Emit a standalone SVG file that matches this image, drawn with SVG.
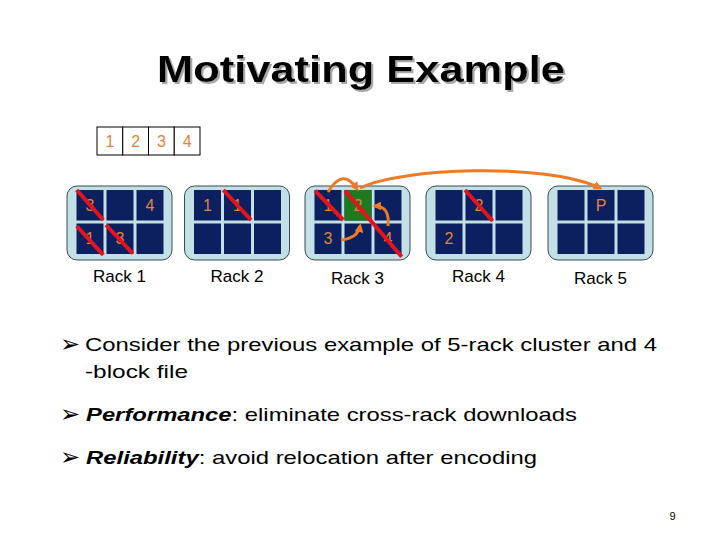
<svg xmlns="http://www.w3.org/2000/svg" width="720" height="540" viewBox="0 0 720 540">
<style>
text { font-family: "Liberation Sans", Arial, sans-serif; }
.rack { fill: #C2E0E6; stroke: #3A4A50; stroke-width: 1; }
.cell { fill: #0C1F5E; }
.green { fill: #1E7A1E; }
.dig { fill: #E0843E; font-size: 16px; text-anchor: middle; }
.x { stroke: #E3141E; stroke-width: 4; stroke-linecap: butt; }
.lbl { fill: #000; font-size: 17px; text-anchor: middle; }
.fb { fill: #fff; stroke: #000; stroke-width: 1; }
.fd { fill: #E0843E; font-size: 16px; text-anchor: middle; }
.arr { fill: none; stroke: #EE7A26; stroke-width: 3; }
.body { fill: #000; font-size: 19px; }
.bul { fill: #000; font-size: 24px; font-family: "DejaVu Sans", sans-serif; }
.bi { font-weight: bold; font-style: italic; }
</style>
<defs>
<filter id="sh" x="-5%" y="-20%" width="110%" height="150%">
<feOffset in="SourceAlpha" dx="2" dy="2" result="o"/>
<feFlood flood-color="#A8A8A8"/>
<feComposite in2="o" operator="in" result="s"/>
<feMerge><feMergeNode in="s"/><feMergeNode in="SourceGraphic"/></feMerge>
</filter>
<marker id="ah" viewBox="0 0 10 10" refX="7" refY="5" markerWidth="9" markerHeight="9" markerUnits="userSpaceOnUse" orient="auto">
<path d="M0,0 L10,5 L0,10 z" fill="#EE7A26"/>
</marker>
<g id="grid">
<rect class="cell" x="9.5" y="4" width="27" height="30.5"/>
<rect class="cell" x="39.5" y="4" width="27" height="30.5"/>
<rect class="cell" x="69.5" y="4" width="27" height="30.5"/>
<rect class="cell" x="9.5" y="37.5" width="27" height="30.5"/>
<rect class="cell" x="39.5" y="37.5" width="27" height="30.5"/>
<rect class="cell" x="69.5" y="37.5" width="27" height="30.5"/>
</g>
</defs>

<g id="title">
<text x="157" y="82" font-size="36" font-weight="bold" fill="#000" filter="url(#sh)" textLength="408" lengthAdjust="spacingAndGlyphs">Motivating Example</text>
</g>

<g id="file">
<rect class="fb" x="97" y="127" width="25.75" height="28"/>
<rect class="fb" x="122.75" y="127" width="25.75" height="28"/>
<rect class="fb" x="148.5" y="127" width="25.75" height="28"/>
<rect class="fb" x="174.25" y="127" width="25.75" height="28"/>
<text class="fd" x="110" y="147">1</text>
<text class="fd" x="135.6" y="147">2</text>
<text class="fd" x="161.4" y="147">3</text>
<text class="fd" x="187.1" y="147">4</text>
</g>

<g id="rack1" transform="translate(67,186)">
<rect class="rack" x="0" y="0" width="105" height="74" rx="10"/>
<use href="#grid"/>
<text class="dig" x="23" y="25">3</text>
<text class="dig" x="83" y="25">4</text>
<text class="dig" x="23" y="58">1</text>
<text class="dig" x="53" y="58">3</text>
<line class="x" x1="9.7" y1="4" x2="36.3" y2="34"/>
<line class="x" x1="9.7" y1="40" x2="36.3" y2="69"/>
<line class="x" x1="39" y1="39" x2="65.7" y2="67.3"/>
<text class="lbl" x="52.5" y="96">Rack 1</text>
</g>

<g id="rack2" transform="translate(184.5,186)">
<rect class="rack" x="0" y="0" width="105" height="74" rx="10"/>
<use href="#grid"/>
<text class="dig" x="23" y="25">1</text>
<text class="dig" x="53" y="25">1</text>
<line class="x" x1="38.8" y1="4" x2="66.5" y2="34"/>
<text class="lbl" x="52.5" y="96">Rack 2</text>
</g>

<g id="rack3" transform="translate(305,186)">
<rect class="rack" x="0" y="0" width="105" height="74" rx="10"/>
<use href="#grid"/>
<rect class="green" x="39.5" y="4" width="27" height="30.5"/>
<text class="dig" x="23" y="25">1</text>
<text class="dig" x="53" y="25">2</text>
<text class="dig" x="23" y="58">3</text>
<text class="dig" x="83" y="58">4</text>
<line class="x" x1="10" y1="4.7" x2="38.3" y2="34"/>
<line class="x" x1="40" y1="4.7" x2="96.7" y2="70.7"/>
<text class="lbl" x="52.5" y="97.5">Rack 3</text>
</g>

<g id="rack4" transform="translate(426,186)">
<rect class="rack" x="0" y="0" width="105" height="74" rx="10"/>
<use href="#grid"/>
<text class="dig" x="53" y="25">2</text>
<text class="dig" x="23" y="58">2</text>
<line class="x" x1="39" y1="4" x2="66.7" y2="35"/>
<text class="lbl" x="52.5" y="96">Rack 4</text>
</g>

<g id="rack5" transform="translate(548,186)">
<rect class="rack" x="0" y="0" width="105" height="74" rx="10"/>
<use href="#grid"/>
<text class="dig" x="53" y="25">P</text>
<text class="lbl" x="52.5" y="97.5">Rack 5</text>
</g>

<g id="connectors">
<path class="arr" d="M328,192 Q343,167 357,189" marker-end="url(#ah)"/>
<path class="arr" d="M341,240 Q358,238 360,226" marker-end="url(#ah)"/>
<path class="arr" d="M388,226 Q390,206 375,206" marker-end="url(#ah)"/>
<path class="arr" d="M360,188 C400,168 545,162 600,188" marker-end="url(#ah)"/>
</g>

<g id="bullets">
<text class="bul" x="60" y="352">➢</text>
<text class="body" x="85" y="351" textLength="572" lengthAdjust="spacingAndGlyphs">Consider the previous example of 5-rack cluster and 4</text>
<text class="body" x="85" y="378" textLength="103" lengthAdjust="spacingAndGlyphs">-block file</text>
<text class="bul" x="60" y="422">➢</text>
<text class="body" x="86" y="421" textLength="491" lengthAdjust="spacingAndGlyphs"><tspan class="bi">Performance</tspan>: eliminate cross-rack downloads</text>
<text class="bul" x="60" y="465">➢</text>
<text class="body" x="86" y="464" textLength="451" lengthAdjust="spacingAndGlyphs"><tspan class="bi">Reliability</tspan>: avoid relocation after encoding</text>
</g>

<text x="672.5" y="520" font-size="11" text-anchor="middle" fill="#000">9</text>
</svg>
